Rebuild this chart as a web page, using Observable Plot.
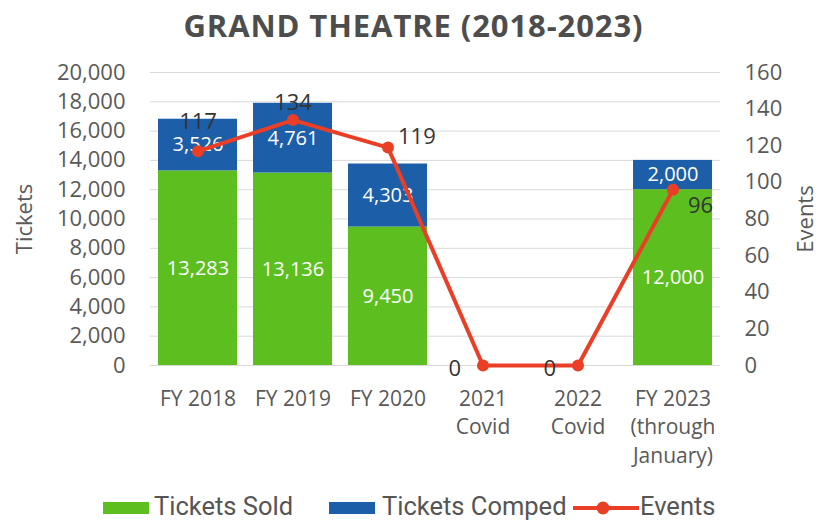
<!DOCTYPE html>
<html><head><meta charset="utf-8">
<script src="https://cdn.jsdelivr.net/npm/d3@7"></script>
<script src="https://cdn.jsdelivr.net/npm/@observablehq/plot@0.6"></script>
<style>
body{margin:0;background:#fff;font-family:"Open Sans",sans-serif;width:819px;height:521px;position:relative;overflow:hidden;}
#title{position:absolute;left:4px;top:0;width:819px;height:50px;line-height:50px;text-align:center;font-weight:700;font-size:31px;color:#4d4d4d;letter-spacing:0.9px;}
#chart{position:absolute;left:0;top:50px;}
#legend{position:absolute;left:0;top:492px;width:819px;height:28px;font-family:Roboto,sans-serif;font-size:25.5px;color:#555;}
.item{position:absolute;top:0;height:28px;line-height:28px;}
.sw{position:absolute;top:10px;width:46px;height:12px;}
</style></head><body>
<div id="title">GRAND THEATRE (2018-2023)</div>
<div id="chart"></div>
<div id="legend"></div>
<script>
const categories = ["FY 2018","FY 2019","FY 2020","2021\nCovid","2022\nCovid","FY 2023\n(through\nJanuary)"];
const ticketsSold = [13283,13136,9450,0,0,12000];
const ticketsComped = [3526,4761,4303,0,0,2000];
const events = [117,134,119,0,0,96];
const ticketTicks = [0,2000,4000,6000,8000,10000,12000,14000,16000,18000,20000];
const eventTicks = [0,20,40,60,80,100,120,140,160];
const seriesNames = ["Tickets Sold","Tickets Comped","Events"];
const colors = {"Tickets Sold":"#5cbf1f","Tickets Comped":"#1d5ea8","Events":"#ea3f26"};

const k = 20000/160;
const rows = [];
categories.forEach((c,i)=>{
  rows.push({cat:c, series:"Tickets Sold", value:ticketsSold[i]});
  rows.push({cat:c, series:"Tickets Comped", value:ticketsComped[i]});
});
const ev = categories.map((c,i)=>({cat:c, i, events:events[i]}));
const fmt = d3.format(",");
const txt = "#333333";
const axisColor = "#595959";

const chart = Plot.plot({
  width:819, height:430,
  marginTop:22, marginBottom:115, marginLeft:150, marginRight:99,
  x:{domain:categories, paddingInner:0.17, paddingOuter:0.085},
  y:{domain:[0,20000]},
  color:{domain:seriesNames, range:seriesNames.map(s=>colors[s])},
  style:{fontFamily:"'Open Sans', sans-serif", color:axisColor, background:"#fff"},
  marks:[
    Plot.gridY(ticketTicks,{stroke:"#d9d9d9", strokeOpacity:1, strokeWidth:1}),
    Plot.barY(rows,{x:"cat", y:"value", fill:"series"}),
    Plot.text(rows, Plot.stackY({x:"cat", y:"value", z:"series", text:d=>d.value>0?fmt(d.value):"", fill:"white", fontSize:20})),
    Plot.axisY(ticketTicks,{tickFormat:fmt, tickSize:0, tickPadding:25, fontSize:22, label:null, fill:axisColor}),
    Plot.axisY(eventTicks.map(v=>v*k),{anchor:"right", tickFormat:d=>String(d/k), tickSize:0, tickPadding:24, fontSize:22, label:null, fill:axisColor}),
    Plot.axisX({tickSize:0, tickPadding:20, fontSize:21, lineHeight:1.36, label:null, fill:axisColor}),
    Plot.text(["Tickets"],{frameAnchor:"left", dx:-126, rotate:-90, textAnchor:"middle", fontSize:22, fill:axisColor}),
    Plot.text(["Events"],{frameAnchor:"right", dx:85, rotate:-90, textAnchor:"middle", fontSize:22, fill:axisColor}),
    Plot.line(ev,{x:"cat", y:d=>d.events*k, stroke:colors.Events, strokeWidth:4}),
    Plot.dot(ev,{x:"cat", y:d=>d.events*k, r:6, fill:colors.Events}),
    Plot.text(ev.filter(d=>d.i===0),{x:"cat", y:d=>d.events*k, text:d=>String(d.events), dy:-29, fontSize:22, fill:txt}),
    Plot.text(ev.filter(d=>d.i===1),{x:"cat", y:d=>d.events*k, text:d=>String(d.events), dy:-17, fontSize:22, fill:txt}),
    Plot.text(ev.filter(d=>d.i===2),{x:"cat", y:d=>d.events*k, text:d=>String(d.events), dx:10, dy:-11, textAnchor:"start", fontSize:22, fill:txt}),
    Plot.text(ev.filter(d=>d.i===3||d.i===4),{x:"cat", y:d=>d.events*k, text:d=>String(d.events), dx:-22, dy:3, textAnchor:"end", fontSize:22, fill:txt}),
    Plot.text(ev.filter(d=>d.i===5),{x:"cat", y:d=>d.events*k, text:d=>String(d.events), dx:15, dy:16, textAnchor:"start", fontSize:22, fill:txt})
  ]
});
document.getElementById("chart").appendChild(chart);

const legend = document.getElementById("legend");
const lx = [{s:"Tickets Sold", sw:103, t:154},{s:"Tickets Comped", sw:329, t:382},{s:"Events", sw:573, t:640}];
lx.forEach(o=>{
  if(o.s==="Events"){
    const svg = `<svg style="position:absolute;left:${o.sw}px;top:8px" width="66" height="16"><line x1="0" y1="8" x2="66" y2="8" stroke="${colors.Events}" stroke-width="4"/><circle cx="30" cy="8" r="6.5" fill="${colors.Events}"/></svg>`;
    legend.insertAdjacentHTML("beforeend", svg);
  } else {
    legend.insertAdjacentHTML("beforeend", `<div class="sw" style="left:${o.sw}px;background:${colors[o.s]}"></div>`);
  }
  legend.insertAdjacentHTML("beforeend", `<div class="item" style="left:${o.t}px">${o.s}</div>`);
});
</script>
</body></html>
